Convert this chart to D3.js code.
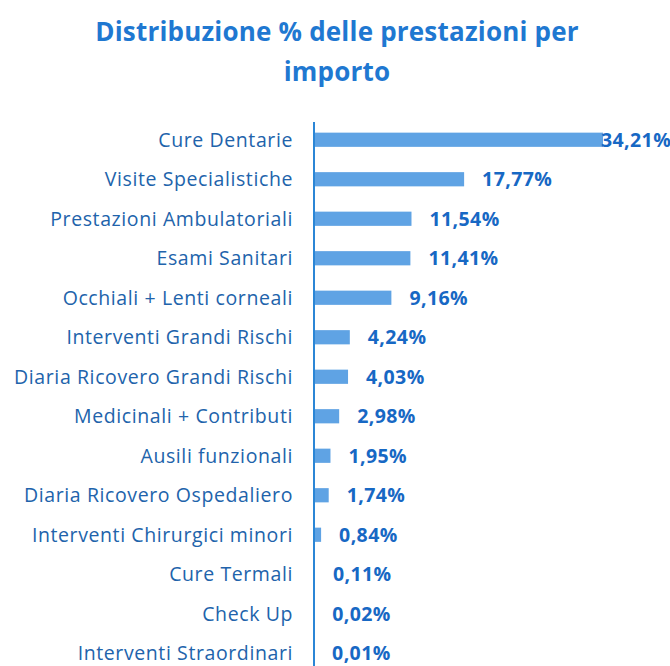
<!DOCTYPE html>
<html>
<head>
<meta charset="utf-8">
<script src="https://cdn.jsdelivr.net/npm/d3@7"></script>
<style>
  body { margin: 0; background: #fff; }
  svg { display: block; }
</style>
</head>
<body>
<svg id="chart" width="670" height="666"></svg>
<script>
const categories = [
  'Cure Dentarie', 'Visite Specialistiche', 'Prestazioni Ambulatoriali', 'Esami Sanitari',
  'Occhiali + Lenti corneali', 'Interventi Grandi Rischi', 'Diaria Ricovero Grandi Rischi',
  'Medicinali + Contributi', 'Ausili funzionali', 'Diaria Ricovero Ospedaliero',
  'Interventi Chirurgici minori', 'Cure Termali', 'Check Up', 'Interventi Straordinari'
];
const values = [34.21, 17.77, 11.54, 11.41, 9.16, 4.24, 4.03, 2.98, 1.95, 1.74, 0.84, 0.11, 0.02, 0.01];
const titleLines = ['Distribuzione % delle prestazioni per', 'importo'];

const width = 670, height = 666;
const axisX = 314;
const svg = d3.select('#chart');
const font = '"Open Sans", sans-serif';

// title
svg.selectAll('text.title')
  .data(titleLines)
  .join('text')
  .attr('class', 'title')
  .attr('x', 337)
  .attr('y', (d, i) => 41 + i * 40)
  .attr('text-anchor', 'middle')
  .attr('font-family', font)
  .attr('font-weight', 'bold')
  .attr('font-size', 26)
  .attr('letter-spacing', 0.2)
  .attr('fill', '#1f78d1')
  .text(d => d);

const x = d3.scaleLinear().domain([0, 34.21]).range([axisX, 603]);
const y = d3.scaleBand().domain(categories).range([120, 673]).paddingInner(0.64).paddingOuter(0.32);

svg.selectAll('rect.bar')
  .data(values)
  .join('rect')
  .attr('class', 'bar')
  .attr('x', x(0))
  .attr('y', (d, i) => y(categories[i]))
  .attr('width', d => x(d) - x(0))
  .attr('height', y.bandwidth())
  .attr('fill', '#5fa3e4');

// vertical axis line
svg.append('line')
  .attr('x1', axisX).attr('x2', axisX)
  .attr('y1', 122).attr('y2', height)
  .attr('stroke', '#2b86d6')
  .attr('stroke-width', 2);

// category labels
svg.selectAll('text.cat')
  .data(categories)
  .join('text')
  .attr('class', 'cat')
  .attr('x', 293)
  .attr('y', d => y(d) + y.bandwidth() / 2)
  .attr('dy', '0.35em')
  .attr('text-anchor', 'end')
  .attr('font-family', font)
  .attr('font-size', 19.5)
  .attr('letter-spacing', 0.6)
  .attr('fill', '#2163ab')
  .text(d => d);

// value labels
svg.selectAll('text.val')
  .data(values)
  .join('text')
  .attr('class', 'val')
  .attr('x', d => Math.min(x(d) + 18, 601))
  .attr('y', (d, i) => y(categories[i]) + y.bandwidth() / 2)
  .attr('dy', '0.35em')
  .attr('font-family', font)
  .attr('font-weight', 'bold')
  .attr('font-size', 19.5)
  .attr('letter-spacing', 0.4)
  .attr('fill', '#1768c4')
  .text(d => d.toFixed(2).replace('.', ',') + '%');
</script>
</body>
</html>
